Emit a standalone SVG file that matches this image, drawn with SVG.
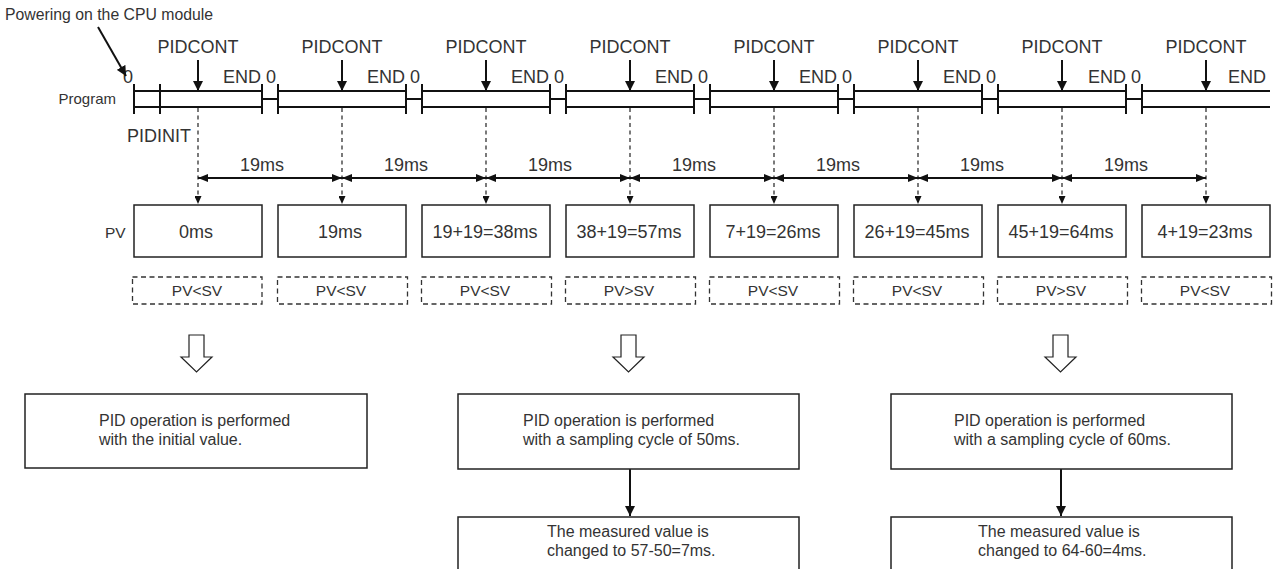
<svg xmlns="http://www.w3.org/2000/svg" width="1274" height="569" viewBox="0 0 1274 569">
<style>
text{font-family:"Liberation Sans",Arial,sans-serif;fill:#333}
.t18{font-size:18px}
.t16{font-size:16px}
.t15{font-size:15px}
.c{text-anchor:middle}
.bar{stroke:#111;stroke-width:2;fill:none}
.box{fill:#fff;stroke:#222;stroke-width:1.5}
.dbox{fill:none;stroke:#333;stroke-width:1.3;stroke-dasharray:5,3.5}
.dash{stroke:#333;stroke-width:1.3;stroke-dasharray:4,3.5;fill:none}
.ln{stroke:#111;stroke-width:2;fill:none}
.hollow{fill:#fff;stroke:#222;stroke-width:1.2}
</style>
<defs>
<marker id="ah" markerUnits="userSpaceOnUse" markerWidth="10" markerHeight="10" refX="10" refY="5" orient="auto"><path d="M0,0 L10,5 L0,10 z" fill="#111"/></marker>
<marker id="dm" markerUnits="userSpaceOnUse" markerWidth="10" markerHeight="8" refX="10" refY="4" orient="auto-start-reverse"><path d="M0,0 L10,4 L0,8 z" fill="#111"/></marker>
<marker id="sm" markerUnits="userSpaceOnUse" markerWidth="8" markerHeight="7" refX="8" refY="3.5" orient="auto"><path d="M0,0 L8,3.5 L0,7 z" fill="#111"/></marker>
</defs>

<g id="title">
<text class="t15" x="5" y="20" style="font-size:15.8px">Powering on the CPU module</text>
</g>

<g id="timeline">
<text class="t15" x="116" y="104" text-anchor="end">Program</text>
<path class="bar" d="M134,91H262M134,107H262M278,91H406M278,107H406M422,91H550M422,107H550M566,91H694M566,107H694M710,91H838M710,107H838M854,91H982M854,107H982M998,91H1126M998,107H1126M1142,91H1270M1142,107H1270"/>
<path class="bar" d="M134,84V114M160,84V114M262,84V114M278,84V114M406,84V114M422,84V114M550,84V114M566,84V114M694,84V114M710,84V114M838,84V114M854,84V114M982,84V114M998,84V114M1126,84V114M1142,84V114"/>
<path class="bar" d="M262,99H278M406,99H422M550,99H566M694,99H710M838,99H854M982,99H998M1126,99H1142"/>
<text class="t18" x="123" y="83">0</text>
<text class="t18" x="420" y="83" text-anchor="end">END 0</text>
<text class="t18" x="276" y="83" text-anchor="end">END 0</text>
<text class="t18" x="564" y="83" text-anchor="end">END 0</text>
<text class="t18" x="708" y="83" text-anchor="end">END 0</text>
<text class="t18" x="852" y="83" text-anchor="end">END 0</text>
<text class="t18" x="996" y="83" text-anchor="end">END 0</text>
<text class="t18" x="1141" y="83" text-anchor="end">END 0</text>
<text class="t18" x="1228" y="83">END</text>
<text class="t18" x="127" y="142">PIDINIT</text>
</g>

<g id="pidcont">
<text class="t18 c" x="198" y="53">PIDCONT</text>
<text class="t18 c" x="342" y="53">PIDCONT</text>
<text class="t18 c" x="486" y="53">PIDCONT</text>
<text class="t18 c" x="630" y="53">PIDCONT</text>
<text class="t18 c" x="774" y="53">PIDCONT</text>
<text class="t18 c" x="918" y="53">PIDCONT</text>
<text class="t18 c" x="1062" y="53">PIDCONT</text>
<text class="t18 c" x="1206" y="53">PIDCONT</text>
</g>

<g id="connectors">
<line class="ln" x1="98" y1="27" x2="126" y2="76" marker-end="url(#ah)"/>
<line class="ln" x1="198" y1="60" x2="198" y2="91" marker-end="url(#ah)"/>
<line class="ln" x1="342" y1="60" x2="342" y2="91" marker-end="url(#ah)"/>
<line class="ln" x1="486" y1="60" x2="486" y2="91" marker-end="url(#ah)"/>
<line class="ln" x1="630" y1="60" x2="630" y2="91" marker-end="url(#ah)"/>
<line class="ln" x1="774" y1="60" x2="774" y2="91" marker-end="url(#ah)"/>
<line class="ln" x1="918" y1="60" x2="918" y2="91" marker-end="url(#ah)"/>
<line class="ln" x1="1062" y1="60" x2="1062" y2="91" marker-end="url(#ah)"/>
<line class="ln" x1="1206" y1="60" x2="1206" y2="91" marker-end="url(#ah)"/>

<line class="dash" x1="198" y1="108" x2="198" y2="204" marker-end="url(#sm)"/>
<line class="dash" x1="342" y1="108" x2="342" y2="204" marker-end="url(#sm)"/>
<line class="dash" x1="486" y1="108" x2="486" y2="204" marker-end="url(#sm)"/>
<line class="dash" x1="630" y1="108" x2="630" y2="204" marker-end="url(#sm)"/>
<line class="dash" x1="774" y1="108" x2="774" y2="204" marker-end="url(#sm)"/>
<line class="dash" x1="918" y1="108" x2="918" y2="204" marker-end="url(#sm)"/>
<line class="dash" x1="1062" y1="108" x2="1062" y2="204" marker-end="url(#sm)"/>
<line class="dash" x1="1206" y1="108" x2="1206" y2="204" marker-end="url(#sm)"/>

<line class="ln" x1="198" y1="178" x2="342" y2="178" marker-start="url(#dm)" marker-end="url(#dm)"/>
<line class="ln" x1="342" y1="178" x2="486" y2="178" marker-start="url(#dm)" marker-end="url(#dm)"/>
<line class="ln" x1="486" y1="178" x2="630" y2="178" marker-start="url(#dm)" marker-end="url(#dm)"/>
<line class="ln" x1="630" y1="178" x2="774" y2="178" marker-start="url(#dm)" marker-end="url(#dm)"/>
<line class="ln" x1="774" y1="178" x2="918" y2="178" marker-start="url(#dm)" marker-end="url(#dm)"/>
<line class="ln" x1="918" y1="178" x2="1062" y2="178" marker-start="url(#dm)" marker-end="url(#dm)"/>
<line class="ln" x1="1062" y1="178" x2="1206" y2="178" marker-start="url(#dm)" marker-end="url(#dm)"/>

<line class="ln" x1="630" y1="469" x2="630" y2="516" marker-end="url(#ah)"/>
<line class="ln" x1="1061" y1="469" x2="1061" y2="516" marker-end="url(#ah)"/>

<polygon class="hollow" points="189,335 204,335 204,357 212,357 196.5,372 181,357 189,357"/>
<polygon class="hollow" points="621,335 636,335 636,357 644,357 628.5,372 613,357 621,357"/>
<polygon class="hollow" points="1053,335 1068,335 1068,357 1076,357 1060.5,372 1045,357 1053,357"/>
</g>

<g id="dim-labels">
<text class="t18" x="240" y="171">19ms</text>
<text class="t18" x="384" y="171">19ms</text>
<text class="t18" x="528" y="171">19ms</text>
<text class="t18" x="672" y="171">19ms</text>
<text class="t18" x="816" y="171">19ms</text>
<text class="t18" x="960" y="171">19ms</text>
<text class="t18" x="1104" y="171">19ms</text>
</g>

<g id="pv">
<text class="t15" x="105" y="238" style="font-size:15.5px">PV</text>
<g id="pv1"><rect class="box" x="134" y="205" width="128" height="52"/><text class="t18 c" x="196" y="238">0ms</text></g>
<g id="pv2"><rect class="box" x="278" y="205" width="128" height="52"/><text class="t18 c" x="340" y="238">19ms</text></g>
<g id="pv3"><rect class="box" x="422" y="205" width="128" height="52"/><text class="t18 c" x="485" y="238">19+19=38ms</text></g>
<g id="pv4"><rect class="box" x="566" y="205" width="128" height="52"/><text class="t18 c" x="629" y="238">38+19=57ms</text></g>
<g id="pv5"><rect class="box" x="710" y="205" width="128" height="52"/><text class="t18 c" x="773" y="238">7+19=26ms</text></g>
<g id="pv6"><rect class="box" x="854" y="205" width="128" height="52"/><text class="t18 c" x="917" y="238">26+19=45ms</text></g>
<g id="pv7"><rect class="box" x="998" y="205" width="128" height="52"/><text class="t18 c" x="1061" y="238">45+19=64ms</text></g>
<g id="pv8"><rect class="box" x="1142" y="205" width="128" height="52"/><text class="t18 c" x="1205" y="238">4+19=23ms</text></g>
</g>

<g id="cmp">
<g id="cmp1"><rect class="dbox" x="132.5" y="277" width="129.5" height="27"/><text class="c" x="197" y="296" style="font-size:15.5px">PV&lt;SV</text></g>
<g id="cmp2"><rect class="dbox" x="277.5" y="277" width="130" height="27"/><text class="c" x="341" y="296" style="font-size:15.5px">PV&lt;SV</text></g>
<g id="cmp3"><rect class="dbox" x="421.5" y="277" width="130" height="27"/><text class="c" x="485" y="296" style="font-size:15.5px">PV&lt;SV</text></g>
<g id="cmp4"><rect class="dbox" x="565.5" y="277" width="130" height="27"/><text class="c" x="629" y="296" style="font-size:15.5px">PV&gt;SV</text></g>
<g id="cmp5"><rect class="dbox" x="709.5" y="277" width="130" height="27"/><text class="c" x="773" y="296" style="font-size:15.5px">PV&lt;SV</text></g>
<g id="cmp6"><rect class="dbox" x="853.5" y="277" width="130" height="27"/><text class="c" x="917" y="296" style="font-size:15.5px">PV&lt;SV</text></g>
<g id="cmp7"><rect class="dbox" x="997.5" y="277" width="130" height="27"/><text class="c" x="1061" y="296" style="font-size:15.5px">PV&gt;SV</text></g>
<g id="cmp8"><rect class="dbox" x="1141.5" y="277" width="130" height="27"/><text class="c" x="1205" y="296" style="font-size:15.5px">PV&lt;SV</text></g>
</g>

<g id="resultA">
<rect class="box" x="25" y="394" width="342" height="74"/>
<text class="t16" x="99" y="426">PID operation is performed</text>
<text class="t16" x="99" y="445">with the initial value.</text>
</g>
<g id="resultB">
<rect class="box" x="458" y="394" width="341" height="75"/>
<text class="t16" x="523" y="426">PID operation is performed</text>
<text class="t16" x="523" y="445">with a sampling cycle of 50ms.</text>
</g>
<g id="resultB2">
<rect class="box" x="458" y="517" width="341" height="70"/>
<text class="t16" x="547" y="537">The measured value is</text>
<text class="t16" x="547" y="556">changed to 57-50=7ms.</text>
</g>
<g id="resultC">
<rect class="box" x="891" y="394" width="341" height="75"/>
<text class="t16" x="954" y="426">PID operation is performed</text>
<text class="t16" x="954" y="445">with a sampling cycle of 60ms.</text>
</g>
<g id="resultC2">
<rect class="box" x="891" y="517" width="341" height="70"/>
<text class="t16" x="978" y="537">The measured value is</text>
<text class="t16" x="978" y="556">changed to 64-60=4ms.</text>
</g>
</svg>
